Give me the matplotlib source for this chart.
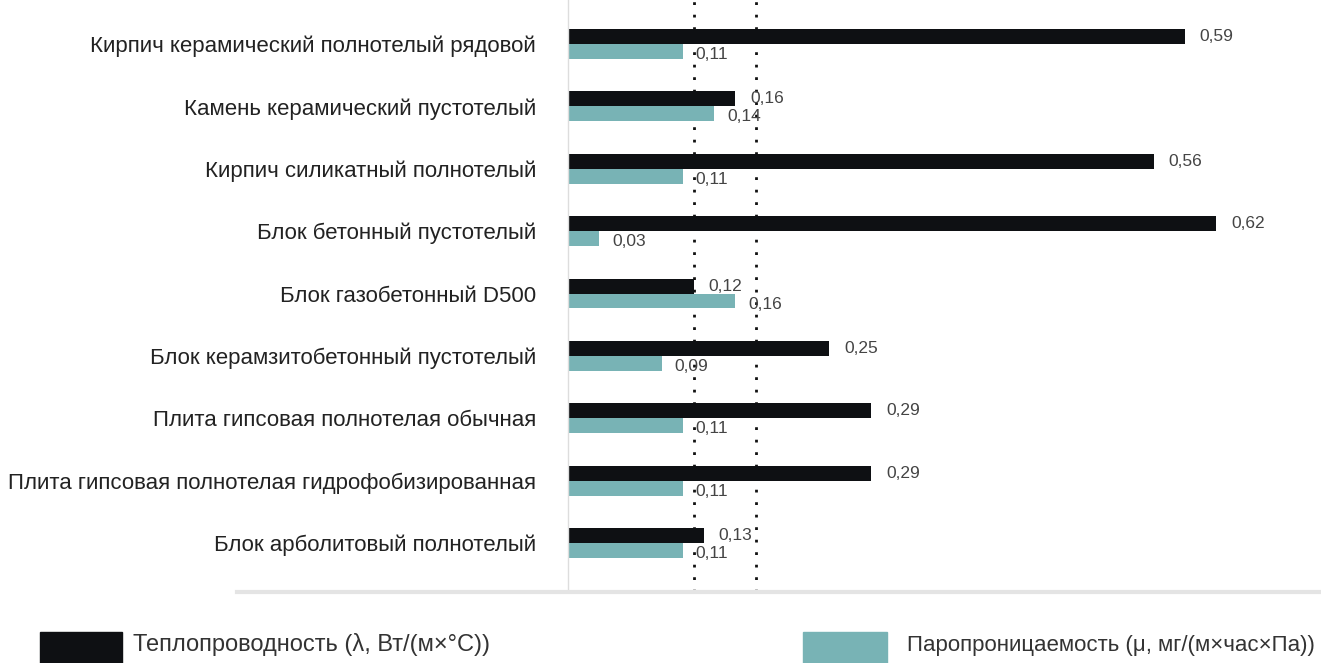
import matplotlib.pyplot as plt
from matplotlib.lines import Line2D
from matplotlib.patches import Rectangle
import numpy as np

plt.rcParams['font.family'] = ['Liberation Sans', 'DejaVu Sans']

categories = [
    "Кирпич керамический полнотелый рядовой",
    "Камень керамический пустотелый",
    "Кирпич силикатный полнотелый",
    "Блок бетонный пустотелый",
    "Блок газобетонный D500",
    "Блок керамзитобетонный пустотелый",
    "Плита гипсовая полнотелая обычная",
    "Плита гипсовая полнотелая гидрофобизированная",
    "Блок арболитовый полнотелый",
]
conductivity = [0.59, 0.16, 0.56, 0.62, 0.12, 0.25, 0.29, 0.29, 0.13]
permeability = [0.11, 0.14, 0.11, 0.03, 0.16, 0.09, 0.11, 0.11, 0.11]
ref_lines = [0.12, 0.18]
legend_labels = ["Теплопроводность (λ, Вт/(м×°С))",
                 "Паропроницаемость (μ, мг/(м×час×Па))"]

c_black = '#0e1013'
c_teal = '#78b3b5'

fig = plt.figure(figsize=(13.21, 6.63), dpi=100)
ax = fig.add_axes([568/1321, 1-592/663, 1-568/1321, 592/663])

y = np.arange(len(categories))
h = 0.24
ax.barh(y - h/2, conductivity, height=h, color=c_black, zorder=2)
ax.barh(y + h/2, permeability, height=h, color=c_teal, zorder=2)

for yi, v in zip(y, conductivity):
    ax.text(v + 0.014, yi - h/2, f"{v:.2f}".replace('.', ','), va='center',
            ha='left', fontsize=12.5, color='#444444', zorder=3)
for yi, v in zip(y, permeability):
    ax.text(v + 0.012, yi + h/2 + 0.05, f"{v:.2f}".replace('.', ','), va='center',
            ha='left', fontsize=12.5, color='#444444', zorder=3)

for xv in ref_lines:
    ax.axvline(xv, color='#111111', lw=2, ls=(0, (1, 3.5)), clip_on=False, zorder=1)

ax.set_xlim(0, 0.72)
ax.set_ylim(8.785, -0.705)
ax.set_yticks(y)
ax.set_yticklabels(categories, fontsize=16, color='#222222')
ax.tick_params(axis='y', length=0, pad=23)
ax.set_xticks([])
for s in ['top', 'right', 'bottom']:
    ax.spines[s].set_visible(False)
ax.spines['left'].set_color('#dddddd')
ax.spines['left'].set_linewidth(1)

# bottom rule
fig.add_artist(Line2D([237/1321, 1], [1-592/663, 1-592/663], color='#e4e4e4', lw=3))

# legend
fig.add_artist(Rectangle((40/1321, 0), 82/1321, 31/663, color=c_black))
fig.text(133/1321, 1-645/663, legend_labels[0], fontsize=17, color='#333333', va='center')
fig.add_artist(Rectangle((803/1321, 0), 84/1321, 31/663, color=c_teal))
fig.text(907/1321, 1-645/663, legend_labels[1], fontsize=16, color='#333333', va='center')

fig.savefig('out.png', dpi=100)
